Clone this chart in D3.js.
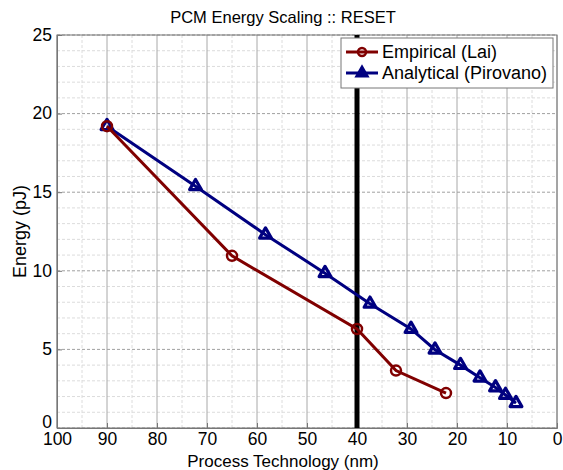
<!DOCTYPE html>
<html><head><meta charset="utf-8">
<script src="https://cdn.jsdelivr.net/npm/d3@7"></script>
<style>body{margin:0;background:#fff}svg{display:block;font-family:"Liberation Sans",Arial,sans-serif}</style>
</head><body><svg id="c" width="563" height="470"></svg>
<script>
const title = "PCM Energy Scaling :: RESET";
const xLabel = "Process Technology (nm)";
const yLabel = "Energy (pJ)";
const empiricalName = "Empirical (Lai)";
const empiricalX = [90, 65, 40, 32.2, 22.2];
const empiricalY = [19.2, 10.95, 6.3, 3.65, 2.22];
const analyticalName = "Analytical (Pirovano)";
const analyticalX = [90, 72.3, 58.3, 46.4, 37.4, 29.2, 24.4, 19.3, 15.4, 12.3, 10.3, 8.2];
const analyticalY = [19.2, 15.38, 12.3, 9.85, 7.9, 6.3, 4.98, 4.0, 3.2, 2.58, 2.1, 1.58];
const xTicks = [100, 90, 80, 70, 60, 50, 40, 30, 20, 10, 0];
const yTicks = [0, 5, 10, 15, 20, 25];
const markerX = 40;

const svg = d3.select("#c");
const L = 57, R = 557, T = 35, B = 428;
const x = d3.scaleLinear().domain([100, 0]).range([L, R]);
const y = d3.scaleLinear().domain([0, 25]).range([B, T]);

// minor grid
const g = svg.append("g");
d3.range(5, 100, 10).forEach(v => g.append("line").attr("x1", x(v)).attr("x2", x(v)).attr("y1", T).attr("y2", B)
  .attr("stroke", "#dcdcdc").attr("stroke-dasharray", "3,2").attr("stroke-width", 1));
d3.range(1, 25).filter(v => v % 5 !== 0).forEach(v => g.append("line").attr("x1", L).attr("x2", R).attr("y1", y(v)).attr("y2", y(v))
  .attr("stroke", "#dcdcdc").attr("stroke-dasharray", "3,2").attr("stroke-width", 1));
// major grid
xTicks.forEach(v => g.append("line").attr("x1", x(v)).attr("x2", x(v)).attr("y1", T).attr("y2", B)
  .attr("stroke", "#a8a8a8").attr("stroke-width", 1));
yTicks.forEach(v => g.append("line").attr("x1", L).attr("x2", R).attr("y1", y(v)).attr("y2", y(v))
  .attr("stroke", "#a0a0a0").attr("stroke-dasharray", "3,2").attr("stroke-width", 1));

// box
svg.append("rect").attr("x", L).attr("y", T).attr("width", R - L).attr("height", B - T)
  .attr("fill", "none").attr("stroke", "#777").attr("stroke-width", 1);

// axes
const xa = svg.append("g").attr("transform", `translate(0,${B})`)
  .call(d3.axisBottom(x).tickValues(xTicks).tickSize(-5).tickPadding(6).tickFormat(d3.format("d")));
const ya = svg.append("g").attr("transform", `translate(${L},0)`)
  .call(d3.axisLeft(y).tickValues(yTicks).tickSize(-5).tickPadding(5).tickFormat(d3.format("d")));
[xa, ya].forEach(a => {
  a.select(".domain").attr("stroke", "#777");
  a.selectAll(".tick line").attr("stroke", "#777");
  a.selectAll("text").attr("font-size", 17.5).attr("fill", "#000").attr("font-family", "Liberation Sans, Arial, sans-serif");
});
xa.selectAll("text").attr("dy", "0.6em");
ya.selectAll("text").attr("dy", "0.3em");
ya.selectAll(".tick").filter(d => d === 0).select("text").attr("dy", "-0.05em");

// vertical black line
svg.append("line").attr("x1", x(markerX)).attr("x2", x(markerX)).attr("y1", T).attr("y2", B)
  .attr("stroke", "#000").attr("stroke-width", 5);

const line = d3.line().x(d => x(d[0])).y(d => y(d[1]));
const emp = empiricalX.map((v, i) => [v, empiricalY[i]]);
const ana = analyticalX.map((v, i) => [v, analyticalY[i]]);
const red = "#800000", blue = "#000080";
const tri = d3.symbol().type(d3.symbolTriangle).size(60);

svg.append("path").attr("d", line(ana)).attr("fill", "none").attr("stroke", blue).attr("stroke-width", 3);
svg.selectAll(".tri").data(ana).join("path").attr("class", "tri")
  .attr("d", tri).attr("transform", d => `translate(${x(d[0])},${y(d[1])})`)
  .attr("fill", "none").attr("stroke", blue).attr("stroke-width", 3.2).attr("stroke-linejoin", "round");
svg.append("path").attr("d", line(emp)).attr("fill", "none").attr("stroke", red).attr("stroke-width", 3);
svg.selectAll(".circ").data(emp).join("circle").attr("class", "circ")
  .attr("cx", d => x(d[0])).attr("cy", d => y(d[1])).attr("r", 5)
  .attr("fill", "none").attr("stroke", red).attr("stroke-width", 2.5);

// legend
const lg = svg.append("g");
lg.append("rect").attr("x", 341).attr("y", 38).attr("width", 212).attr("height", 50)
  .attr("fill", "#fff").attr("stroke", "#777").attr("stroke-width", 1);
const items = [[empiricalName, red, "c"], [analyticalName, blue, "t"]];
items.forEach((it, i) => {
  const yy = 52 + i * 21;
  lg.append("line").attr("x1", 346).attr("x2", 378).attr("y1", yy).attr("y2", yy).attr("stroke", it[1]).attr("stroke-width", 3);
  if (it[2] === "c") lg.append("circle").attr("cx", 362).attr("cy", yy).attr("r", 4).attr("fill", "none").attr("stroke", it[1]).attr("stroke-width", 2.5);
  else lg.append("path").attr("d", tri).attr("transform", `translate(362,${yy})`).attr("fill", it[1]).attr("stroke", it[1]).attr("stroke-width", 2);
  lg.append("text").attr("x", 382).attr("y", yy + 6).attr("font-size", 18).text(it[0]);
});

// titles
svg.append("text").attr("x", 283).attr("y", 23).attr("text-anchor", "middle").attr("font-size", 16.5).text(title);
svg.append("text").attr("x", 283).attr("y", 466.5).attr("text-anchor", "middle").attr("font-size", 17).text(xLabel);
svg.append("text").attr("transform", `translate(26,${(T + B) / 2}) rotate(-90)`).attr("text-anchor", "middle").attr("font-size", 18).text(yLabel);
</script></body></html>
